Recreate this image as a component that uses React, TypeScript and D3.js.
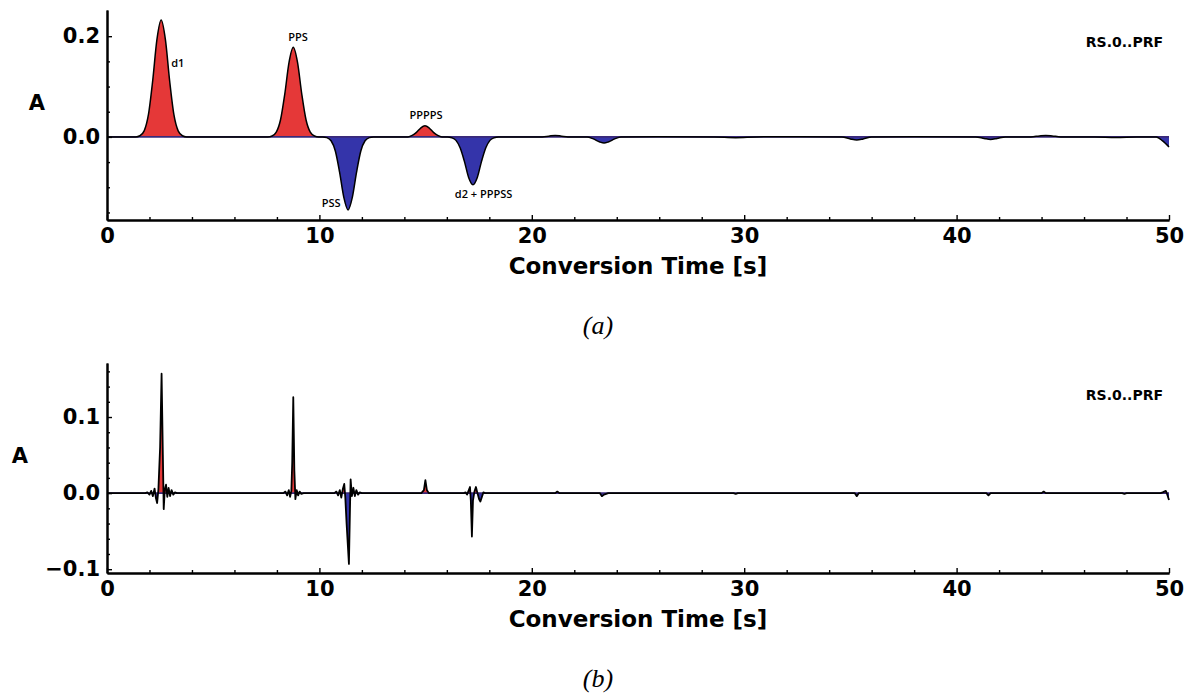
import React, { useEffect, useRef } from 'react';
import * as d3 from 'd3';

// x axis (conversion time, s)
const timeTicks = [0, 10, 20, 30, 40, 50];
const timeMinorTicks = [2, 4, 6, 8, 12, 14, 16, 18, 22, 24, 26, 28, 32, 34, 36, 38, 42, 44, 46, 48];

// panel (a): gaussian receiver function
const gaussYTicks = [0.0, 0.2];
const gaussYMinor = [-0.15, -0.1, -0.05, 0.05, 0.1, 0.15];
const gaussTrace: [number, number][] = [
  [0, 0], [1.35, 0], [1.55, 0.0023], [1.75, 0.012], [1.95, 0.044], [2.15, 0.111], [2.35, 0.193],
  [2.55, 0.232], [2.75, 0.193], [2.95, 0.111], [3.15, 0.044], [3.35, 0.012], [3.55, 0.0023], [3.75, 0],
  [7.57, 0], [7.77, 0.0018], [7.97, 0.0094], [8.17, 0.034], [8.37, 0.085], [8.57, 0.148],
  [8.77, 0.178], [8.97, 0.148], [9.17, 0.085], [9.37, 0.034], [9.57, 0.0094], [9.77, 0.0018], [9.97, 0],
  [10.15, 0], [10.35, -0.0015], [10.55, -0.0077], [10.75, -0.028], [10.95, -0.07], [11.15, -0.12],
  [11.35, -0.145], [11.55, -0.12], [11.75, -0.07], [11.95, -0.028], [12.15, -0.0077], [12.35, -0.0015], [12.55, 0],
  [14.17, 0], [14.37, 0.003], [14.57, 0.009], [14.77, 0.0176], [14.97, 0.022], [15.17, 0.0176],
  [15.37, 0.009], [15.57, 0.003], [15.77, 0],
  [16.03, 0], [16.23, -0.0016], [16.43, -0.0069], [16.63, -0.022], [16.83, -0.049], [17.03, -0.081],
  [17.23, -0.095], [17.43, -0.081], [17.63, -0.049], [17.83, -0.022], [18.03, -0.0069], [18.23, -0.0016], [18.43, 0],
  [20.5, 0], [20.8, 0.0015], [21.1, 0.003], [21.4, 0.0015], [21.7, 0],
  [22.6, 0], [22.9, -0.004], [23.2, -0.01], [23.4, -0.012], [23.6, -0.01], [23.9, -0.004], [24.2, 0],
  [26, 0.0005], [28.6, 0], [29.6, -0.0015], [30.6, 0], [32.5, 0.0005],
  [34.6, 0], [35.0, -0.004], [35.3, -0.006], [35.6, -0.004], [36.0, 0], [38, 0.0005],
  [40.9, 0], [41.3, -0.003], [41.6, -0.005], [41.9, -0.003], [42.3, 0],
  [43.5, 0], [43.9, 0.002], [44.2, 0.003], [44.5, 0.002], [44.9, 0],
  [46.5, 0], [47.5, -0.001], [48.5, 0], [49.4, 0], [49.7, -0.008], [50, -0.02],
];

// panel (b): deconvolved (spiky) receiver function
const spikeYTicks = [-0.1, 0.0, 0.1];
const spikeYMinor = [-0.08, -0.06, -0.04, -0.02, 0.02, 0.04, 0.06, 0.08, 0.12, 0.14, 0.16];
const spikeTrace: [number, number][] = [
  [0, 0], [1.8, 0], [1.9, 0.001], [2.0, -0.002], [2.08, 0.003], [2.16, -0.004], [2.24, 0.006],
  [2.3, -0.006], [2.36, -0.013], [2.42, 0.005], [2.5, 0.06], [2.57, 0.157], [2.63, 0.05], [2.67, -0.021],
  [2.72, 0.004], [2.78, 0.011], [2.84, -0.005], [2.9, 0.007], [2.97, -0.004], [3.04, 0.004],
  [3.12, -0.002], [3.2, 0.001], [3.3, 0],
  [8.3, 0], [8.4, 0.002], [8.48, -0.003], [8.56, 0.004], [8.62, -0.005], [8.68, 0.003], [8.72, 0.04],
  [8.77, 0.126], [8.82, 0.03], [8.87, -0.008], [8.93, 0.004], [9.0, -0.003], [9.07, 0.002], [9.15, -0.001], [9.25, 0],
  [10.7, 0], [10.8, 0.002], [10.88, -0.003], [10.96, 0.004], [11.03, -0.006], [11.1, 0.005], [11.17, 0.012],
  [11.22, -0.006], [11.28, -0.04], [11.39, -0.093], [11.44, -0.02], [11.47, 0.018], [11.53, -0.004],
  [11.6, 0.007], [11.67, -0.004], [11.74, 0.004], [11.82, -0.002], [11.9, 0.001], [12.0, 0],
  [14.8, 0], [14.92, 0.004], [14.99, 0.017], [15.06, 0.004], [15.15, 0],
  [16.8, 0], [16.88, 0.001], [16.95, -0.002], [17.02, 0.003], [17.09, 0.008], [17.13, -0.01],
  [17.18, -0.057], [17.23, -0.01], [17.3, 0.002], [17.37, 0.008], [17.44, 0], [17.52, -0.008],
  [17.58, -0.011], [17.65, -0.005], [17.72, 0.001], [17.8, 0],
  [21.1, 0], [21.2, 0.002], [21.3, 0],
  [23.2, 0], [23.3, -0.004], [23.4, -0.002], [23.6, 0],
  [29.5, 0], [29.6, -0.001], [29.7, 0],
  [35.2, 0], [35.3, -0.004], [35.4, 0],
  [41.4, 0], [41.5, -0.003], [41.6, 0],
  [44.0, 0], [44.1, 0.002], [44.2, 0],
  [47.8, 0], [47.9, -0.001], [48.0, 0],
  [49.6, 0], [49.7, 0.001], [49.85, 0.003], [49.92, -0.002], [50, -0.009],
];

// phase annotations on panel (a): [label, time, amplitude, anchor]
const phaseLabels: [string, number, number, string][] = [
  ['d1', 3.02, 0.139, 'start'],
  ['PPS', 8.99, 0.19, 'middle'],
  ['PSS', 10.55, -0.139, 'middle'],
  ['PPPPS', 15.02, 0.0356, 'middle'],
  ['d2 + PPPSS', 17.73, -0.121, 'middle'],
];

const stationName = 'RS.0..PRF';
const xTitle = 'Conversion Time [s]';

const RED = '#e53838';
const BLUE = '#3434aa';
const FONT = '"DejaVu Sans", sans-serif';

type PanelProps = {
  id: string;
  trace: [number, number][];
  yDomain: [number, number];
  yTicks: number[];
  yMinor: number[];
  top: number;
  bottom: number;
  yLabelX: number;
  caption: string;
  smooth: boolean;
  labels: [string, number, number, string][];
};

const left = 107;
const right = 1169;

function Panel(props: PanelProps) {
  const ref = useRef<SVGGElement>(null);

  useEffect(() => {
    const { id, trace, yDomain, yTicks, yMinor, top, bottom, yLabelX, caption, smooth, labels } = props;
    const g = d3.select(ref.current);
    g.selectAll('*').remove();

    const x = d3.scaleLinear().domain([0, 50]).range([left, right]);
    const y = d3.scaleLinear().domain(yDomain).range([bottom, top]);
    const curve = smooth ? d3.curveMonotoneX : d3.curveLinear;

    const area = d3.area<[number, number]>()
      .x(d => x(d[0]))
      .y0(y(0))
      .y1(d => y(d[1]))
      .curve(curve);
    const line = d3.line<[number, number]>()
      .x(d => x(d[0]))
      .y(d => y(d[1]))
      .curve(curve);

    // clip regions above and below zero
    const defs = g.append('defs');
    defs.append('clipPath').attr('id', `pos-${id}`)
      .append('rect').attr('x', left).attr('y', top - 20).attr('width', right - left + 2).attr('height', y(0) - top + 20);
    defs.append('clipPath').attr('id', `neg-${id}`)
      .append('rect').attr('x', left).attr('y', y(0)).attr('width', right - left + 2).attr('height', bottom - y(0));

    g.append('path').attr('d', area(trace)).attr('fill', RED)
      .attr('clip-path', `url(#pos-${id})`);
    g.append('path').attr('d', area(trace)).attr('fill', BLUE)
      .attr('clip-path', `url(#neg-${id})`);
    g.append('line')
      .attr('x1', left).attr('x2', right).attr('y1', y(0)).attr('y2', y(0))
      .attr('stroke', '#3a2a7a').attr('stroke-width', 1.8);
    g.append('path').attr('d', line(trace)).attr('fill', 'none')
      .attr('stroke', '#000').attr('stroke-width', smooth ? 1.5 : 1.8).attr('stroke-linejoin', 'round');

    // axes
    const xMinor = g.append('g').attr('transform', `translate(0,${bottom})`)
      .call(d3.axisBottom(x).tickValues(timeMinorTicks).tickSize(-3).tickSizeOuter(0).tickFormat(() => ''));
    const xMajor = g.append('g').attr('transform', `translate(0,${bottom})`)
      .call(d3.axisBottom(x).tickValues(timeTicks).tickSize(-5).tickSizeOuter(0).tickPadding(8).tickFormat(d3.format('d')));
    const yMinorAx = g.append('g').attr('transform', `translate(${left},0)`)
      .call(d3.axisLeft(y).tickValues(yMinor).tickSize(-3).tickSizeOuter(0).tickFormat(() => ''));
    const yMajor = g.append('g').attr('transform', `translate(${left},0)`)
      .call(d3.axisLeft(y).tickValues(yTicks).tickSize(-5).tickSizeOuter(0).tickPadding(7)
        .tickFormat(d => d3.format('.1f')(d as number).replace('-', '\u2212')));

    [xMinor, xMajor, yMinorAx, yMajor].forEach(ax => {
      ax.select('.domain').attr('stroke', '#000').attr('stroke-width', 2);
      ax.selectAll('.tick line').attr('stroke', '#000').attr('stroke-width', 1.4);
      ax.selectAll('.tick text')
        .attr('fill', '#000')
        .style('font-family', FONT)
        .style('font-weight', 'bold')
        .style('font-size', '21px');
    });

    g.append('text').attr('x', yLabelX).attr('y', (top + bottom) / 2 - 12)
      .attr('text-anchor', 'middle').attr('dy', '0.35em')
      .style('font-family', FONT).style('font-weight', 'bold').style('font-size', '21px')
      .text('A');

    g.append('text').attr('x', (left + right) / 2).attr('y', bottom + 54)
      .attr('text-anchor', 'middle')
      .style('font-family', FONT).style('font-weight', 'bold').style('font-size', '23px')
      .text(xTitle);

    g.append('text').attr('x', right - 6).attr('y', top + 37)
      .attr('text-anchor', 'end')
      .style('font-family', FONT).style('font-weight', 'bold').style('font-size', '14px')
      .text(stationName);

    g.append('text').attr('x', 598).attr('y', bottom + 114)
      .attr('text-anchor', 'middle')
      .style('font-family', '"Liberation Serif", serif').style('font-style', 'italic').style('font-size', '26px')
      .text(caption);

    g.selectAll('.phase').data(labels).join('text')
      .attr('class', 'phase')
      .attr('x', d => x(d[1])).attr('y', d => y(d[2]))
      .attr('text-anchor', d => d[3])
      .attr('fill', '#000')
      .style('font-family', '"Open Sans", sans-serif').style('font-size', '11px').style('font-weight', '600')
      .text(d => d[0]);
  }, [props]);

  return <g ref={ref}></g>;
}

export default function App() {
  return (
    <svg width={1194} height={696} style={{ position: 'absolute', left: 0, top: 0, background: '#fff' }}>
      <Panel id="a" trace={gaussTrace} yDomain={[-0.165, 0.252]} yTicks={gaussYTicks} yMinor={gaussYMinor}
        top={10} bottom={220} yLabelX={37} caption="(a)" smooth={true} labels={phaseLabels} />
      <Panel id="b" trace={spikeTrace} yDomain={[-0.105, 0.171]} yTicks={spikeYTicks} yMinor={spikeYMinor}
        top={363} bottom={573} yLabelX={20} caption="(b)" smooth={false} labels={[]} />
    </svg>
  );
}
